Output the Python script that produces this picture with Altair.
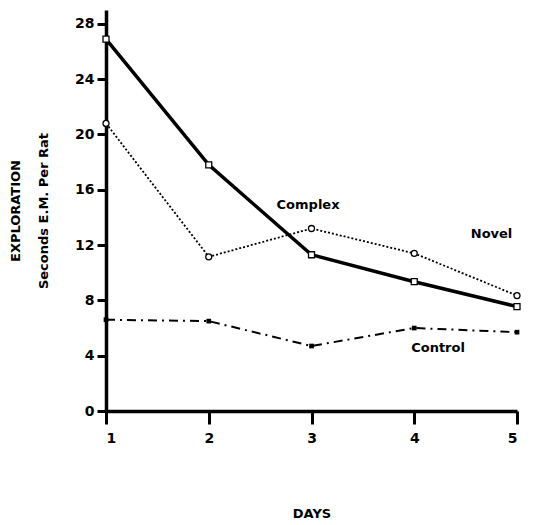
import altair as alt
import pandas as pd

days = [1, 2, 3, 4, 5]
complex_vals = [26.9, 17.8, 11.3, 9.35, 7.55]
novel_vals = [20.8, 11.15, 13.2, 11.4, 8.35]
control_vals = [6.6, 6.5, 4.7, 6.0, 5.7]

label_text = ["Complex", "Novel", "Control"]
label_day = [2.66, 4.55, 3.97]
label_val = [14.9, 12.8, 4.55]

FONT = "DejaVu Sans"

def df(vals):
    return pd.DataFrame({"day": days, "value": vals})

xs = alt.Scale(domain=[1, 5], nice=False, zero=False)
ys = alt.Scale(domain=[0, 29], nice=False)

X = alt.X("day:Q", scale=xs, axis=alt.Axis(values=days, format="d", title="DAYS", titlePadding=62,
                                            tickSize=13, labelPadding=7))
Y = alt.Y("value:Q", scale=ys, axis=alt.Axis(values=[0, 4, 8, 12, 16, 20, 24, 28],
                                              title=["EXPLORATION", "Seconds E.M. Per Rat"],
                                              titlePadding=24, titleLineHeight=28,
                                              tickSize=9, labelPadding=3))

complex_line = alt.Chart(df(complex_vals)).mark_line(color="black", strokeWidth=3.5).encode(x=X, y=Y)
complex_pts = alt.Chart(df(complex_vals)).mark_point(shape="square", filled=True, fill="white",
                                                     stroke="black", strokeWidth=1.3, size=36, opacity=1).encode(x=X, y=Y)
novel_line = alt.Chart(df(novel_vals)).mark_line(color="black", strokeWidth=1.8, strokeDash=[2, 2]).encode(x=X, y=Y)
novel_pts = alt.Chart(df(novel_vals)).mark_point(shape="circle", filled=True, fill="white",
                                                 stroke="black", strokeWidth=1.3, size=36, opacity=1).encode(x=X, y=Y)
control_line = alt.Chart(df(control_vals)).mark_line(color="black", strokeWidth=2, strokeDash=[9, 5, 2, 5]).encode(x=X, y=Y)
control_pts = alt.Chart(df(control_vals)).mark_point(shape="square", filled=True, color="black",
                                                     size=22, opacity=1).encode(x=X, y=Y)

labels = alt.Chart(pd.DataFrame({"t": label_text, "day": label_day, "value": label_val})).mark_text(
    align="left", baseline="middle", fontSize=13, fontWeight="bold", font=FONT, color="black"
).encode(x=X, y=Y, text="t:N")

chart = alt.layer(complex_line, novel_line, control_line, complex_pts, novel_pts, control_pts, labels).properties(
    width=411, height=401, autosize=alt.AutoSizeParams(type="none"),
    padding={"left": 98, "top": 2, "right": 15, "bottom": 110}, background="white"
).configure_view(stroke=None).configure_axis(
    domainColor="black", tickColor="black", labelColor="black", titleColor="black",
    labelFont=FONT, titleFont=FONT, domainWidth=3.5, tickWidth=3, grid=False,
    labelFontSize=14, labelFontWeight="bold", titleFontSize=13, titleFontWeight="bold"
)

chart.save("out.html", embed_options={"renderer": "svg", "actions": False})
